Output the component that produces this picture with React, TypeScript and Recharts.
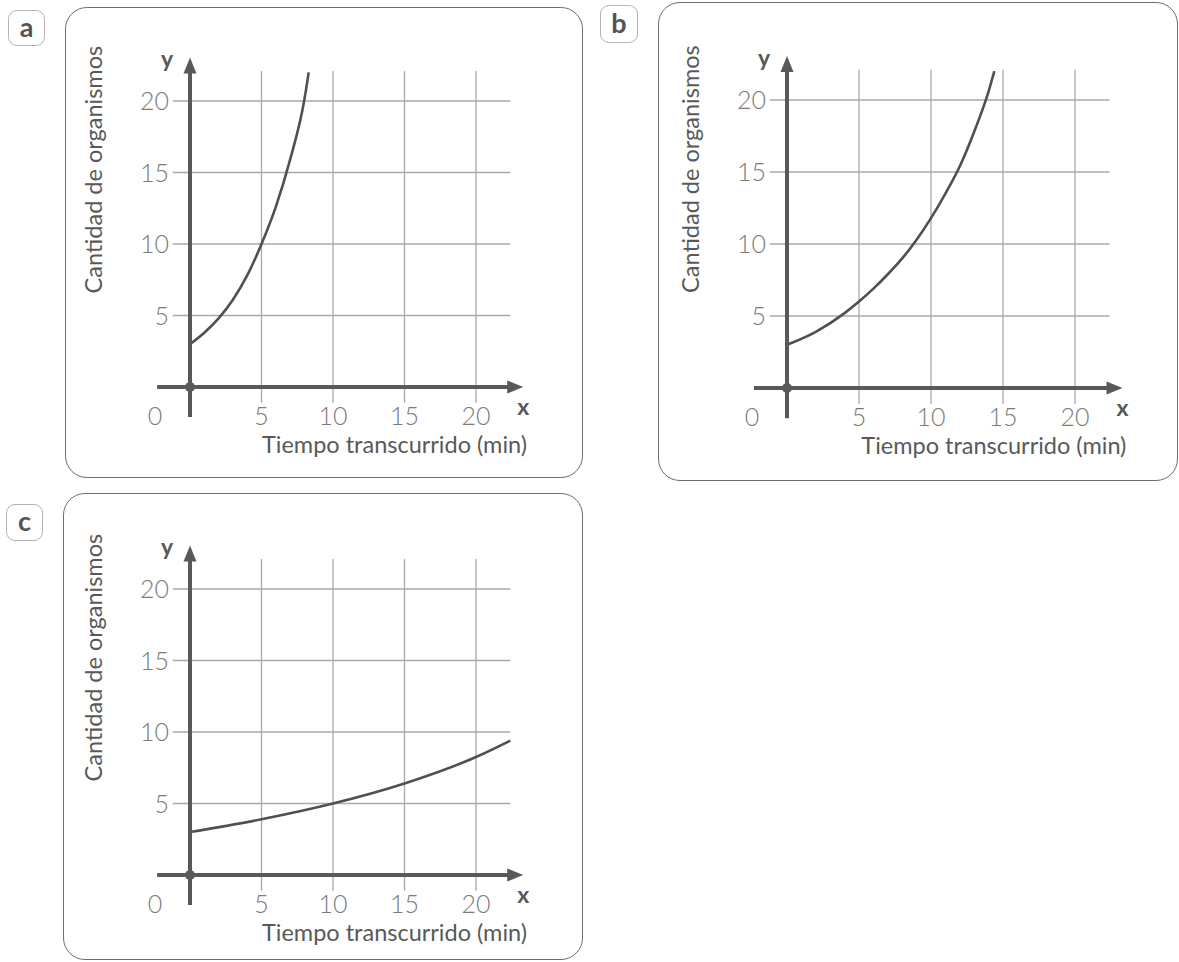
import React from 'react';
import { LineChart, Line, XAxis, YAxis, ReferenceLine, ReferenceDot } from 'recharts';

// ---- data ----
const xTicks = [5, 10, 15, 20];
const yTicks = [5, 10, 15, 20];
const xTitle = 'Tiempo transcurrido (min)';
const yTitle = 'Cantidad de organismos';
const panelLabels = ['a', 'b', 'c'];

const seriesA = [
  { x: 0, y: 3 }, { x: 1, y: 3.8 }, { x: 2, y: 4.8 }, { x: 3, y: 6.1 },
  { x: 4, y: 7.8 }, { x: 5, y: 10 }, { x: 6, y: 12.6 }, { x: 7, y: 15.9 },
  { x: 8, y: 20.1 }, { x: 8.3, y: 22.0 },
];
const seriesB = [
  { x: 0, y: 3 }, { x: 2, y: 3.9 }, { x: 4, y: 5.2 }, { x: 5, y: 6 },
  { x: 6, y: 6.9 }, { x: 7, y: 7.9 }, { x: 8, y: 9.0 }, { x: 9, y: 10.3 },
  { x: 10, y: 11.8 }, { x: 11, y: 13.5 }, { x: 12, y: 15.4 }, { x: 13, y: 17.8 },
  { x: 14, y: 20.6 }, { x: 14.4, y: 22.0 },
];
const seriesC = [
  { x: 0, y: 3 }, { x: 5, y: 3.9 }, { x: 10, y: 5 }, { x: 15, y: 6.4 },
  { x: 20, y: 8.25 }, { x: 22.4, y: 9.4 },
];

const AXIS = '#595959';
const GRID = '#a9a9a9';
const TICK = '#7a7a7a';
const FONT = 'Lato, "Open Sans", sans-serif';

const X_DOMAIN: [number, number] = [-2.5, 24];
const Y_DOMAIN: [number, number] = [-2.5, 23.5];

const ArrowShape = (props: any) => {
  const { x1, y1, x2, y2 } = props;
  const dx = x2 - x1;
  const dy = y2 - y1;
  const len = Math.hypot(dx, dy) || 1;
  const ux = dx / len;
  const uy = dy / len;
  const head = 16;
  const half = 6.5;
  const bx = x2 - ux * head;
  const by = y2 - uy * head;
  const px = -uy;
  const py = ux;
  return (
    <g>
      <line x1={x1} y1={y1} x2={bx + ux} y2={by + uy} stroke={AXIS} strokeWidth={4} />
      <polygon
        points={`${x2},${y2} ${bx + px * half},${by + py * half} ${bx - px * half},${by - py * half}`}
        fill={AXIS}
      />
    </g>
  );
};

const textShape = (content: string, dx: number, dy: number, style: any) => (p: any) => {
  const { rotate, ...rest } = style;
  return (
    <text
      x={p.cx + dx}
      y={p.cy + dy}
      fontFamily={FONT}
      {...rest}
      transform={rotate ? `rotate(-90 ${p.cx + dx} ${p.cy + dy})` : undefined}
    >
      {content}
    </text>
  );
};

type PanelProps = {
  label: string;
  data: { x: number; y: number }[];
  ox: number;
  oy: number;
  s: number;
  box: [number, number, number, number];
  badge: [number, number, number, number];
};

const Panel = ({ label, data, ox, oy, s, box, badge }: PanelProps) => {
  const [bl, bt, bw, bh] = box;
  const plotLeft = ox - (0 - X_DOMAIN[0]) * s;
  const plotTop = oy - (Y_DOMAIN[1] - 0) * s;
  const plotW = (X_DOMAIN[1] - X_DOMAIN[0]) * s;
  const plotH = (Y_DOMAIN[1] - Y_DOMAIN[0]) * s;
  const margin = {
    left: plotLeft - bl,
    top: plotTop - bt,
    right: bw - (plotLeft - bl) - plotW,
    bottom: bh - (plotTop - bt) - plotH,
  };
  const tickStyle = { fontSize: 25, fontWeight: 300, fill: TICK };
  return (
    <>
      <div
        style={{
          position: 'absolute', left: badge[0], top: badge[1], width: badge[2], height: badge[3],
          boxSizing: 'border-box', border: '1.5px solid #b3b3b3', borderRadius: 9,
          display: 'flex', alignItems: 'center', justifyContent: 'center',
          fontFamily: FONT, fontWeight: 700, fontSize: 27, color: '#555', paddingBottom: 4,
        }}
      >
        {label}
      </div>
      <div
        style={{
          position: 'absolute', left: bl, top: bt, width: bw, height: bh,
          boxSizing: 'border-box', border: '1.4px solid #6e6e6e', borderRadius: 22,
        }}
      />
      <div style={{ position: 'absolute', left: bl, top: bt }}>
        <LineChart width={bw} height={bh} data={data} margin={margin} style={{ overflow: 'visible' }}>
          <XAxis type="number" dataKey="x" domain={X_DOMAIN} hide allowDataOverflow />
          <YAxis type="number" dataKey="y" domain={Y_DOMAIN} hide allowDataOverflow />
          {xTicks.map((t) => (
            <ReferenceLine
              key={'gx' + t}
              segment={[{ x: t, y: -1.1 }, { x: t, y: 22.1 }]}
              stroke={GRID}
              strokeWidth={1.3}
            />
          ))}
          {yTicks.map((t) => (
            <ReferenceLine
              key={'gy' + t}
              segment={[{ x: -1.2, y: t }, { x: 22.4, y: t }]}
              stroke={GRID}
              strokeWidth={1.3}
            />
          ))}
          <Line
            type="monotone"
            dataKey="y"
            stroke="#505050"
            strokeWidth={2.6}
            dot={false}
            isAnimationActive={false}
          />
          <ReferenceLine segment={[{ x: -2.3, y: 0 }, { x: 23.3, y: 0 }]} shape={ArrowShape} />
          <ReferenceLine segment={[{ x: 0, y: -2.1 }, { x: 0, y: 23.05 }]} shape={ArrowShape} />
          <ReferenceDot x={0} y={0} r={5} fill={AXIS} stroke="none" />
          {xTicks.map((t) => (
            <ReferenceDot
              key={'tx' + t}
              x={t}
              y={0}
              shape={textShape(String(t), 0, 38, { ...tickStyle, textAnchor: 'middle' })}
            />
          ))}
          <ReferenceDot
            x={0}
            y={0}
            shape={textShape('0', -35, 38, { ...tickStyle, textAnchor: 'middle' })}
          />
          {yTicks.map((t) => (
            <ReferenceDot
              key={'ty' + t}
              x={0}
              y={t}
              shape={textShape(String(t), -21, 9, { ...tickStyle, textAnchor: 'end' })}
            />
          ))}
          <ReferenceDot
            x={0}
            y={22.7}
            shape={textShape('y', -23, 5, { fontSize: 23, fontWeight: 700, fill: AXIS, textAnchor: 'middle' })}
          />
          <ReferenceDot
            x={23.3}
            y={-1.55}
            shape={textShape('x', 0, 6, { fontSize: 23, fontWeight: 700, fill: AXIS, textAnchor: 'middle' })}
          />
          <ReferenceDot
            x={23.5}
            y={-2.5}
            shape={textShape(xTitle, 1, 30, { fontSize: 23.5, fill: AXIS, textAnchor: 'end' })}
          />
          <ReferenceDot
            x={-2.5}
            y={15.2}
            shape={textShape(yTitle, -52, 0, { fontSize: 23.5, fill: AXIS, textAnchor: 'middle', rotate: true })}
          />
        </LineChart>
      </div>
    </>
  );
};

export default function App() {
  return (
    <div style={{ position: 'absolute', left: 0, top: 0, width: 1179, height: 962, background: '#fff', overflow: 'hidden' }}>
      <Panel label={panelLabels[0]} data={seriesA} ox={190} oy={387} s={14.3} box={[65, 7, 518, 471]} badge={[8, 10, 37, 36]} />
      <Panel label={panelLabels[1]} data={seriesB} ox={787} oy={388} s={14.4} box={[658, 2, 520, 479]} badge={[600, 5, 38, 38]} />
      <Panel label={panelLabels[2]} data={seriesC} ox={190} oy={875} s={14.3} box={[63, 493, 520, 467]} badge={[6, 504, 37, 37]} />
    </div>
  );
}
